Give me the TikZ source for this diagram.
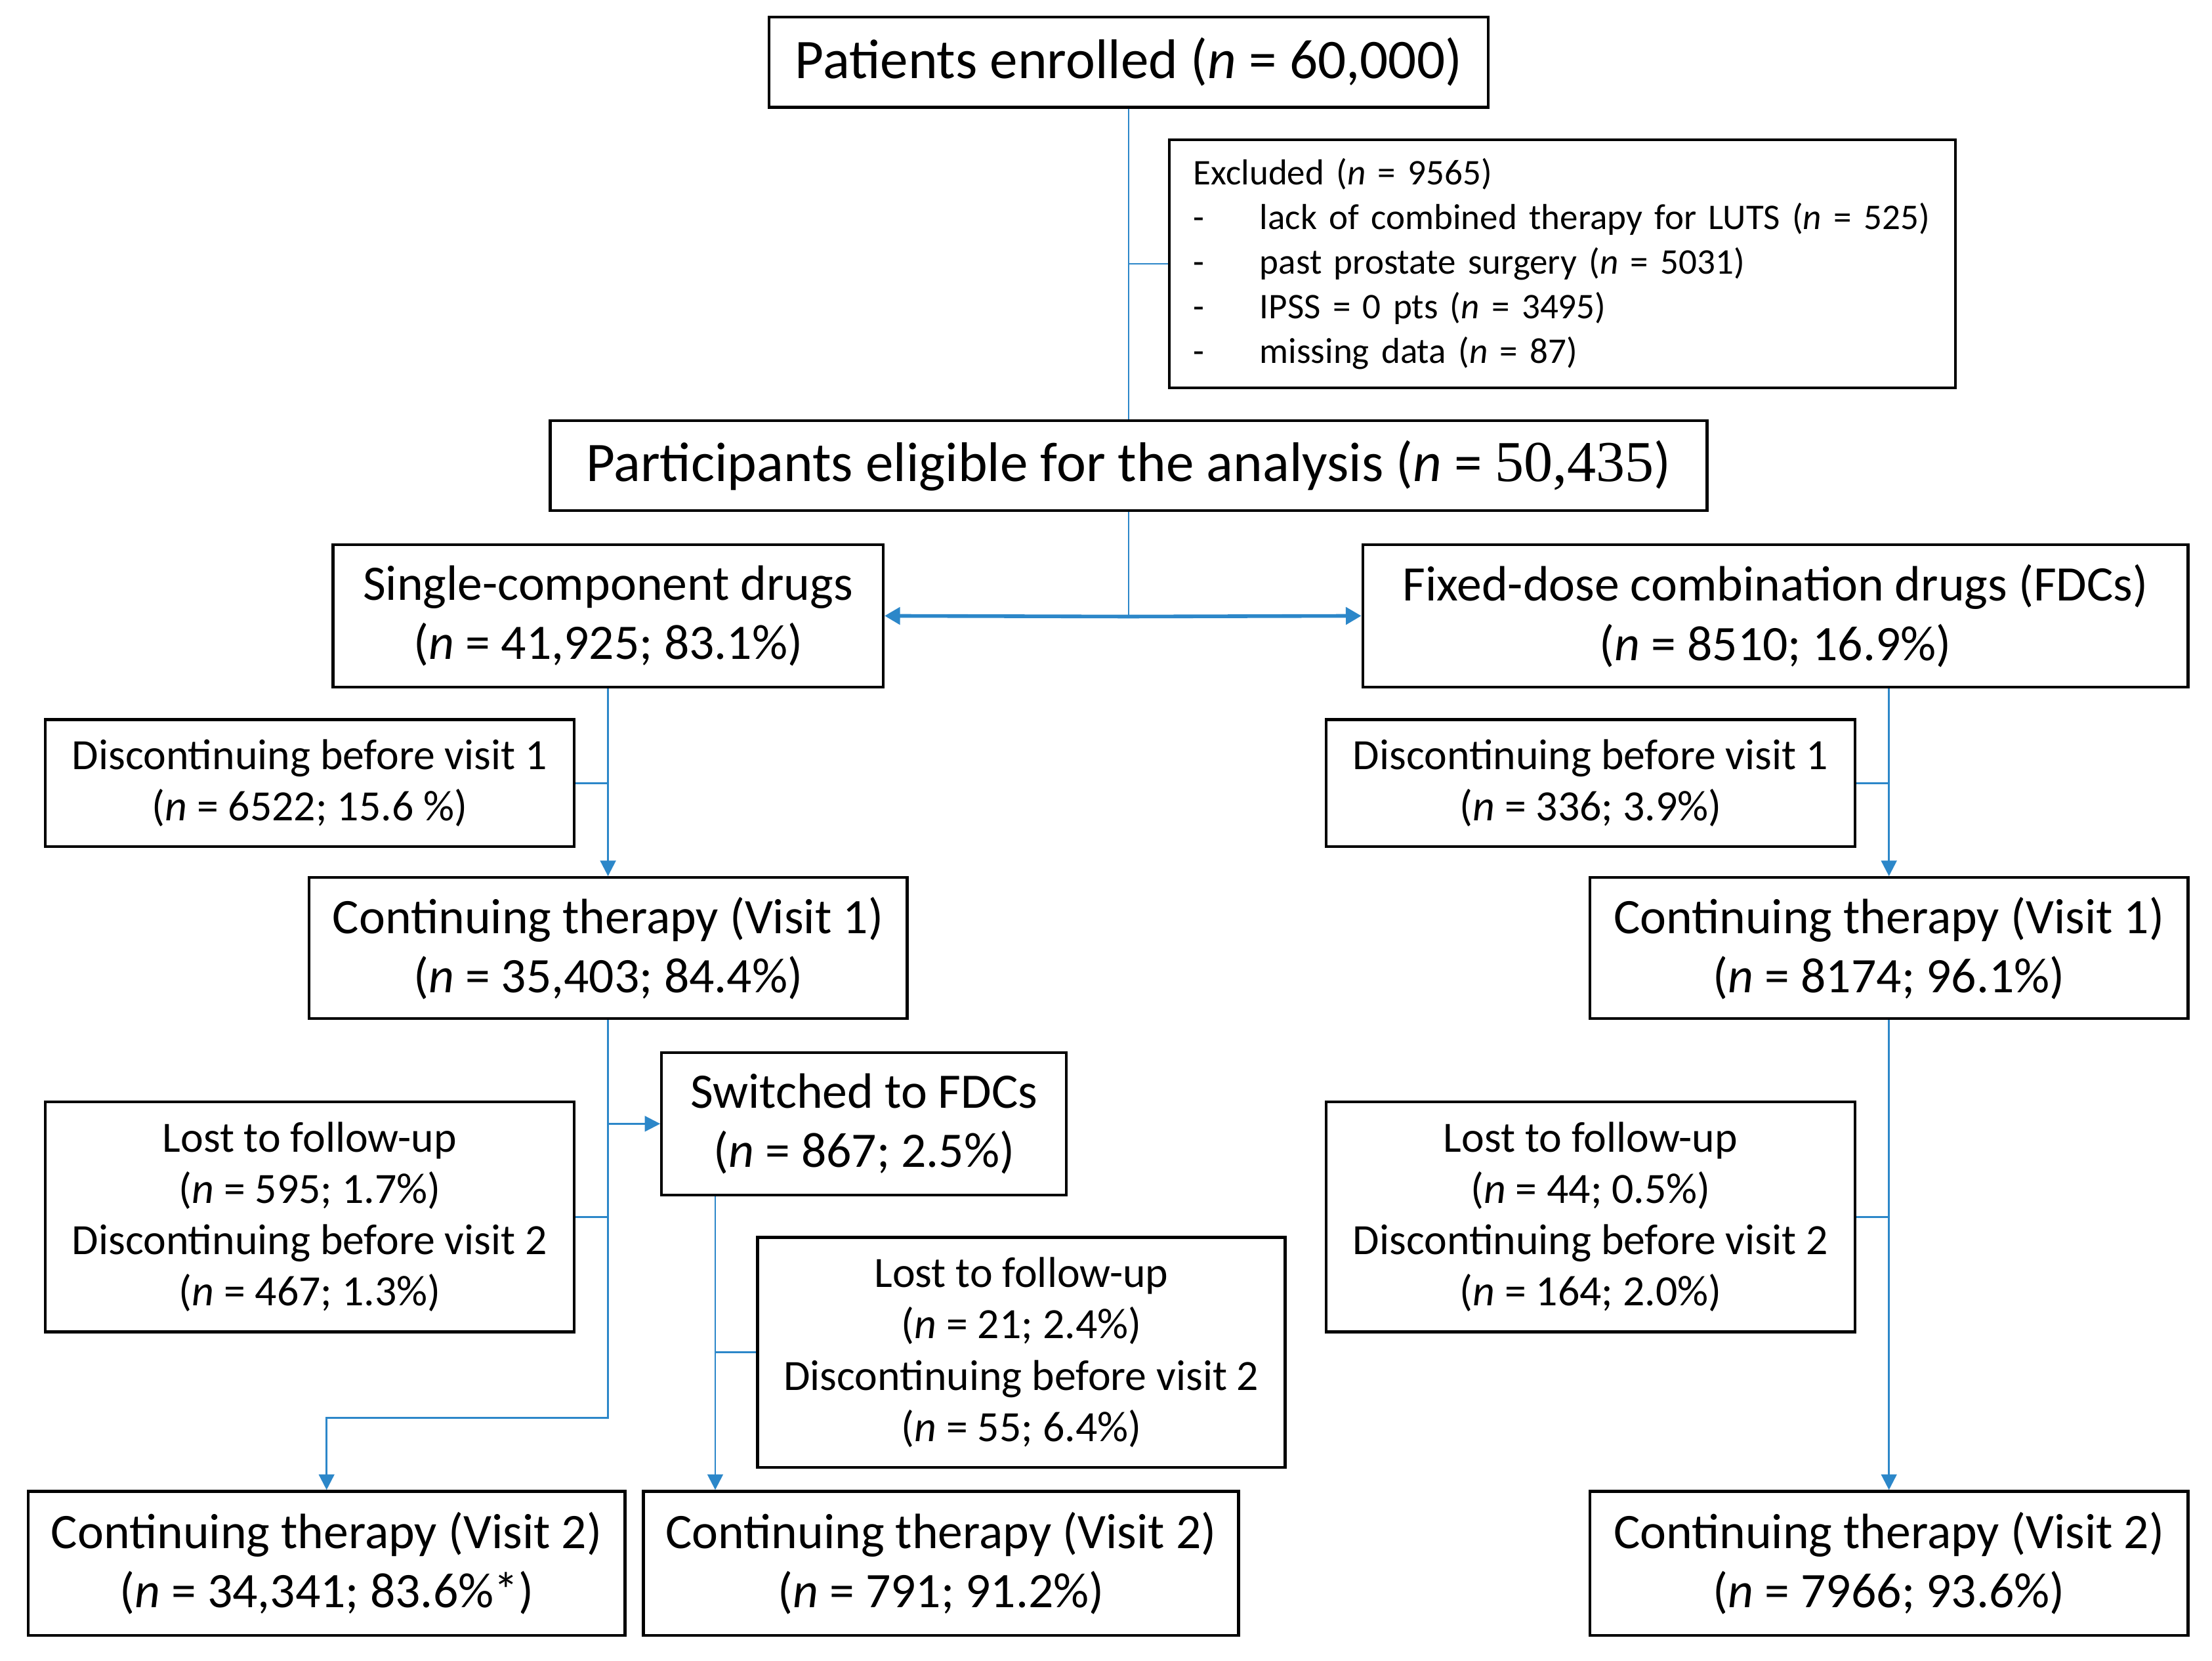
\documentclass[tikz,border=0pt]{standalone}
\usepackage{fontspec}
\setmainfont{Carlito}
\newfontfamily\serifnum{Liberation Serif}
\usetikzlibrary{arrows.meta,calc}
\definecolor{lnblue}{RGB}{44,135,201}
\tikzset{
  box/.style={draw=black, line width=1pt, fill=white, inner sep=0pt, align=center},
  bigtxt/.style={font=\fontsize{19.8pt}{23.5pt}\selectfont},
  midtxt/.style={font=\fontsize{17.6pt}{21pt}\selectfont},
  smalltxt/.style={font=\fontsize{15.3pt}{18.2pt}\selectfont},
  conn/.style={draw=lnblue, line width=0.65pt},
  arr/.style={conn, -{Triangle[length=5.5pt,width=5.5pt]}},
}
\newcommand{\exitem}{\par\hspace*{6pt}\makebox[23.5pt][l]{-}}
\begin{document}
\begin{tikzpicture}[x=0.5pt,y=-0.5pt]
\useasboundingbox (0,0) rectangle (1568,1177);

% boxes
\node[box,bigtxt,minimum width=255pt,minimum height=32pt] (top) at (800,44)
  {Patients enrolled (\textit{n} = 60,000)};
\node[box,align=left,text width=273.5pt,inner xsep=2.5pt,minimum height=88pt,
  font=\fontsize{12.8pt}{15.85pt}\selectfont] (excl) at (1107.5,187)
  {\hspace*{6pt}Excluded (\textit{n} = 9565)
   \exitem lack of combined therapy for LUTS (\textit{n} = 525)
   \exitem past prostate surgery (\textit{n} = 5031)
   \exitem IPSS = 0 pts (\textit{n} = 3495)
   \exitem missing data (\textit{n} = 87)};
\node[box,bigtxt,minimum width=410pt,minimum height=32pt] (elig) at (800,330)
  {Participants eligible for the analysis (\textit{n} = {\serifnum\fontsize{20.5pt}{23.5pt}\selectfont 50,435})};
\node[box,midtxt,minimum width=195pt,minimum height=50.5pt] (single) at (431,436.5)
  {Single-component drugs\\(\textit{n} = 41,925; 83.1\%)};
\node[box,midtxt,minimum width=292.5pt,minimum height=50.5pt] (fdc) at (1258.5,436.5)
  {Fixed-dose combination drugs (FDCs)\\(\textit{n} = 8510; 16.9\%)};

\node[box,smalltxt,minimum width=187.5pt,minimum height=45pt] (disc1L) at (219.5,555)
  {Discontinuing before visit 1\\(\textit{n} = 6522; 15.6 \%)};
\node[box,midtxt,minimum width=212pt,minimum height=50pt] (cont1L) at (431,672)
  {Continuing therapy (Visit 1)\\(\textit{n} = 35,403; 84.4\%)};
\node[box,smalltxt,minimum width=187.5pt,minimum height=81.5pt] (lostL) at (219.5,862.5)
  {Lost to follow-up\\(\textit{n} = 595; 1.7\%)\\Discontinuing before visit 2\\(\textit{n} = 467; 1.3\%)};
\node[box,midtxt,minimum width=143.5pt,minimum height=50.5pt] (switch) at (612.5,796.5)
  {Switched to FDCs\\(\textit{n} = 867; 2.5\%)};
\node[box,smalltxt,minimum width=187pt,minimum height=81.5pt] (lost2) at (724,958.5)
  {Lost to follow-up\\(\textit{n} = 21; 2.4\%)\\Discontinuing before visit 2\\(\textit{n} = 55; 6.4\%)};
\node[box,midtxt,minimum width=211.5pt,minimum height=51pt] (cont2L) at (231.5,1108)
  {Continuing therapy (Visit 2)\\(\textit{n} = 34,341; 83.6\%*)};
\node[box,midtxt,minimum width=211pt,minimum height=51pt] (cont2M) at (667,1108)
  {Continuing therapy (Visit 2)\\(\textit{n} = 791; 91.2\%)};

\node[box,smalltxt,minimum width=187.5pt,minimum height=45pt] (disc1R) at (1127.5,555)
  {Discontinuing before visit 1\\(\textit{n} = 336; 3.9\%)};
\node[box,midtxt,minimum width=212pt,minimum height=50pt] (cont1R) at (1339,672)
  {Continuing therapy (Visit 1)\\(\textit{n} = 8174; 96.1\%)};
\node[box,smalltxt,minimum width=187.5pt,minimum height=81.5pt] (lostR) at (1127.5,862.5)
  {Lost to follow-up\\(\textit{n} = 44; 0.5\%)\\Discontinuing before visit 2\\(\textit{n} = 164; 2.0\%)};
\node[box,midtxt,minimum width=212pt,minimum height=51pt] (cont2R) at (1339,1108)
  {Continuing therapy (Visit 2)\\(\textit{n} = 7966; 93.6\%)};

% connectors
\draw[conn] (top.south) -- (elig.north);
\draw[conn] (excl.west) -- (top.south |- excl.west);
\coordinate (J) at ($(elig.south)+(0,74)$);
\draw[conn] (elig.south) -- (J);
\draw[conn,line width=1.3pt,-{Triangle[length=5.5pt,width=6pt]}] (J) -- (single.east);
\draw[conn,line width=1.3pt,-{Triangle[length=5.5pt,width=6pt]}] (J) -- (fdc.west);

\draw[arr] (single.south) -- (cont1L.north);
\draw[conn] (disc1L.east) -- (single.south |- disc1L.east);

\coordinate (K) at ($(cont1L.south)+(0,282)$);
\draw[arr] (cont1L.south) -- (K) -- (K -| cont2L.north) -- (cont2L.north);
\draw[arr] (cont1L.south |- switch.west) -- (switch.west);
\draw[conn] (lostL.east) -- (cont1L.south |- lostL.east);

\coordinate (S) at ($(switch.south west)+(39,0)$);
\draw[arr] (S) -- (S |- cont2M.north);
\draw[conn] (lost2.west) -- (S |- lost2.west);

\draw[arr] (cont1R.north |- fdc.south) -- (cont1R.north);
\draw[conn] (disc1R.east) -- (cont1R.north |- disc1R.east);
\draw[arr] (cont1R.south) -- (cont2R.north);
\draw[conn] (lostR.east) -- (cont1R.south |- lostR.east);
\end{tikzpicture}
\end{document}
